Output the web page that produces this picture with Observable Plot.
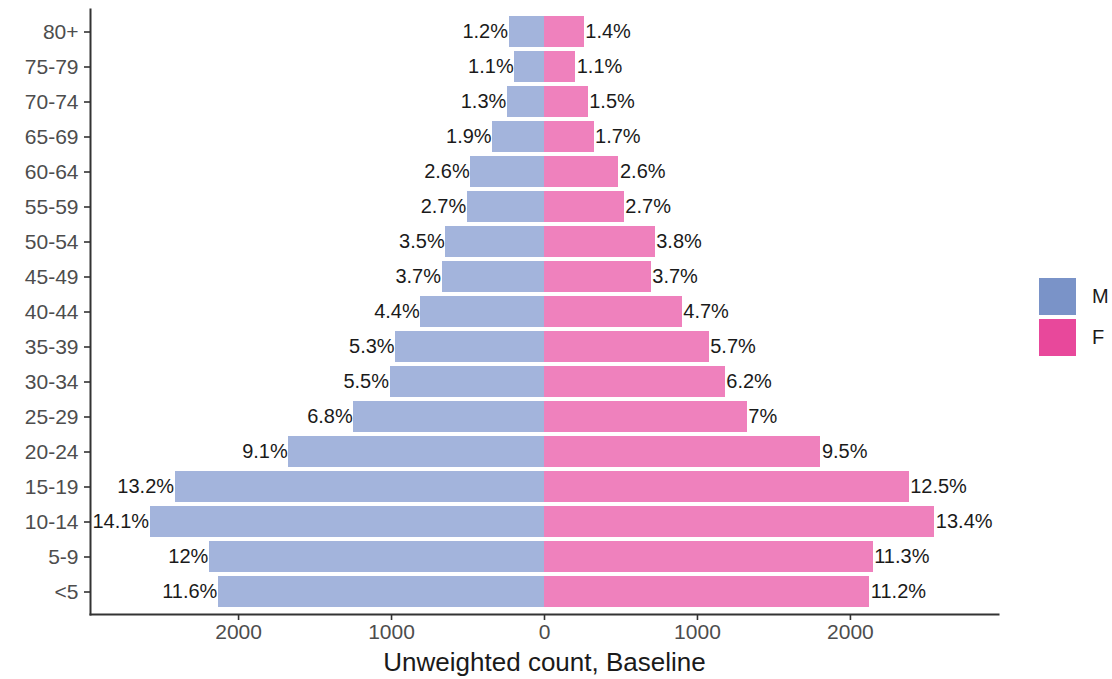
<!DOCTYPE html>
<html><head><meta charset="utf-8">
<script src="https://cdn.jsdelivr.net/npm/d3@7"></script>
<script src="https://cdn.jsdelivr.net/npm/@observablehq/plot@0.6"></script>
<style>
body{margin:0;background:#fff;font-family:"Liberation Sans",Arial,sans-serif;}
#wrap{position:relative;width:1112px;height:679px;}
#legend{position:absolute;left:1039px;top:276px;font-size:20px;color:#1a1a1a;}
.item{display:flex;align-items:center;height:41px;}
.sw{width:37px;height:37px;margin-right:16px;}
</style></head><body><div id="wrap"></div>
<script>
const ageGroups = ["<5","5-9","10-14","15-19","20-24","25-29","30-34","35-39","40-44","45-49","50-54","55-59","60-64","65-69","70-74","75-79","80+"];
const maleCounts = [2132, 2191, 2578, 2415, 1672, 1247, 1010, 973, 809, 670, 646, 505, 482, 339, 243, 195, 232];
const femaleCounts = [2127, 2149, 2552, 2384, 1807, 1326, 1182, 1077, 901, 698, 724, 522, 487, 324, 286, 204, 260];
const malePct = ["11.6%","12%","14.1%","13.2%","9.1%","6.8%","5.5%","5.3%","4.4%","3.7%","3.5%","2.7%","2.6%","1.9%","1.3%","1.1%","1.2%"];
const femalePct = ["11.2%","11.3%","13.4%","12.5%","9.5%","7%","6.2%","5.7%","4.7%","3.7%","3.8%","2.7%","2.6%","1.7%","1.5%","1.1%","1.4%"];
const sexes = ["M","F"];
const barColors = ["#a3b4dc","#ef81bd"];
const keyColors = ["#7a93c8","#e8489b"];
const xTicks = [-2000,-1000,0,1000,2000];

const rows = [];
ageGroups.forEach((a,i)=>{
  rows.push({age:a, sex:"M", value:-maleCounts[i], label:malePct[i]});
  rows.push({age:a, sex:"F", value:femaleCounts[i], label:femalePct[i]});
});
const males = rows.filter(d=>d.sex==="M");
const females = rows.filter(d=>d.sex==="F");

const chart = Plot.plot({
  width: 1112, height: 679,
  marginLeft: 90, marginRight: 114, marginTop: 9, marginBottom: 65,
  style: {fontFamily: '"Liberation Sans", Arial, sans-serif', background: "#fff"},
  x: {domain: [-2968, 2968]},
  y: {domain: ageGroups.slice().reverse(), paddingInner: 0.12, paddingOuter: 0.16},
  color: {domain: sexes, range: barColors},
  marks: [
    Plot.barX(rows, {y: "age", x: "value", fill: "sex", shapeRendering: "crispEdges"}),
    Plot.text(males, {y: "age", x: "value", text: "label", textAnchor: "end", dx: -1, fontSize: 20, fill: "#1a1a1a"}),
    Plot.text(females, {y: "age", x: "value", text: "label", textAnchor: "start", dx: 1, fontSize: 20, fill: "#1a1a1a"}),
    Plot.axisY({tickSize: 6, tickPadding: 6, fontSize: 21, fill: "#4d4d4d", stroke: "#333", strokeWidth: 1.6, label: null}),
    Plot.axisX({ticks: xTicks, tickFormat: d => String(Math.abs(d)), tickSize: 6, tickPadding: 4, fontSize: 21, fill: "#4d4d4d", stroke: "#333", strokeWidth: 1.6,
      label: "Unweighted count, Baseline", labelAnchor: "center", labelArrow: "none", labelOffset: 56}),
    Plot.frame({anchor: "left", stroke: "#333", strokeWidth: 2}),
    Plot.frame({anchor: "bottom", stroke: "#333", strokeWidth: 2})
  ]
});
const wrap = document.getElementById("wrap");
wrap.appendChild(chart);
chart.querySelectorAll("g[aria-label='x-axis label']").forEach(el=>{el.setAttribute("font-size","26"); el.setAttribute("fill","#1a1a1a");});

const legend = document.createElement("div");
legend.id = "legend";
sexes.forEach((s,i)=>{
  const it = document.createElement("div"); it.className = "item";
  const sw = document.createElement("div"); sw.className = "sw"; sw.style.background = keyColors[i];
  const lb = document.createElement("span"); lb.textContent = s;
  it.appendChild(sw); it.appendChild(lb); legend.appendChild(it);
});
wrap.appendChild(legend);
</script>
</body></html>
